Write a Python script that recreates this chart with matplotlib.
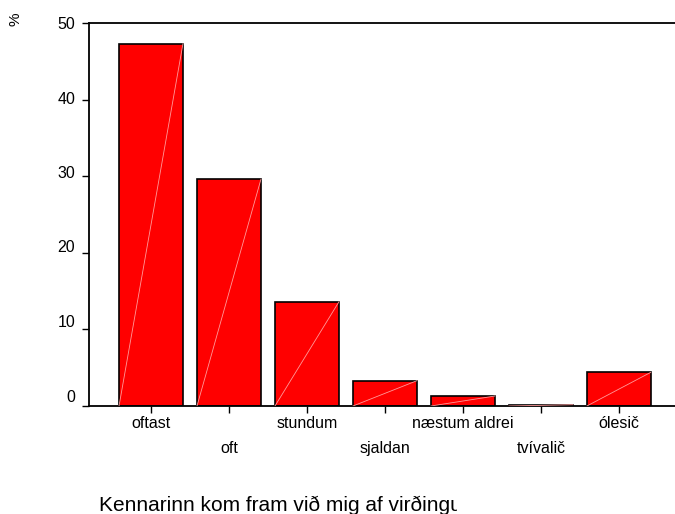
import matplotlib
matplotlib.use('Agg')
import matplotlib.pyplot as plt
import numpy as np
from matplotlib.transforms import Bbox, TransformedBbox, ScaledTranslation

categories = ["oftast", "oft", "stundum", "sjaldan", "næstum aldrei", "tvívalič", "ólesič"]
percent = [47.3, 29.6, 13.6, 3.3, 1.3, 0.17, 4.4]
yticks = [0, 10, 20, 30, 40, 50]

plt.rcParams['font.family'] = ['Liberation Sans', 'DejaVu Sans']

fig = plt.figure(figsize=(6.75, 5.14), dpi=100)
ax = fig.add_axes([89 / 675, 1 - 406 / 514, 1 - 89 / 675, (406 - 23) / 514])

x = np.arange(len(categories))
w = 0.82
ax.bar(x, percent, width=w, color='#ff0000', edgecolor='black', linewidth=1.2, zorder=2)
# faint diagonal streak inside each bar
for xi, h in zip(x, percent):
    ax.plot([xi - w / 2, xi + w / 2], [0, h], color='#ff9a9a', lw=0.6, zorder=3)

ax.set_xlim(-0.795, 6.72)
ax.set_ylim(0, 50)
ax.set_yticks(yticks)
ax.tick_params(axis='y', length=5, width=1, labelsize=11.5, pad=5)
# y labels sit a little higher the lower they are
for tk, v in zip(ax.yaxis.get_major_ticks(), yticks):
    lab = tk.label1
    lab.set_transform(lab.get_transform() + ScaledTranslation(0, (50 - v) * 0.21 / 100, fig.dpi_scale_trans))

ax.set_xticks(x[::2], [categories[i] for i in x[::2]])
ax.set_xticks(x[1::2], [categories[i] for i in x[1::2]], minor=True)
ax.tick_params(axis='x', which='both', length=5, width=1, labelsize=11.5)
ax.tick_params(axis='x', which='major', pad=2)
ax.tick_params(axis='x', which='minor', pad=20)

for s in ['left', 'bottom', 'top']:
    ax.spines[s].set_linewidth(1.3)
ax.spines['right'].set_visible(False)

fig.text(15 / 675, 1 - 19 / 514, "%", rotation=90, fontsize=11, ha='center', va='center')

t = fig.text(99 / 675, 1 - 511 / 514, "Kennarinn kom fram við mig af virðingu",
             fontsize=15, ha='left', va='baseline')
t.set_clip_box(TransformedBbox(Bbox([[0, 0], [457 / 675, 1]]), fig.transFigure))
t.set_clip_on(True)

fig.savefig('out.png', dpi=100)
